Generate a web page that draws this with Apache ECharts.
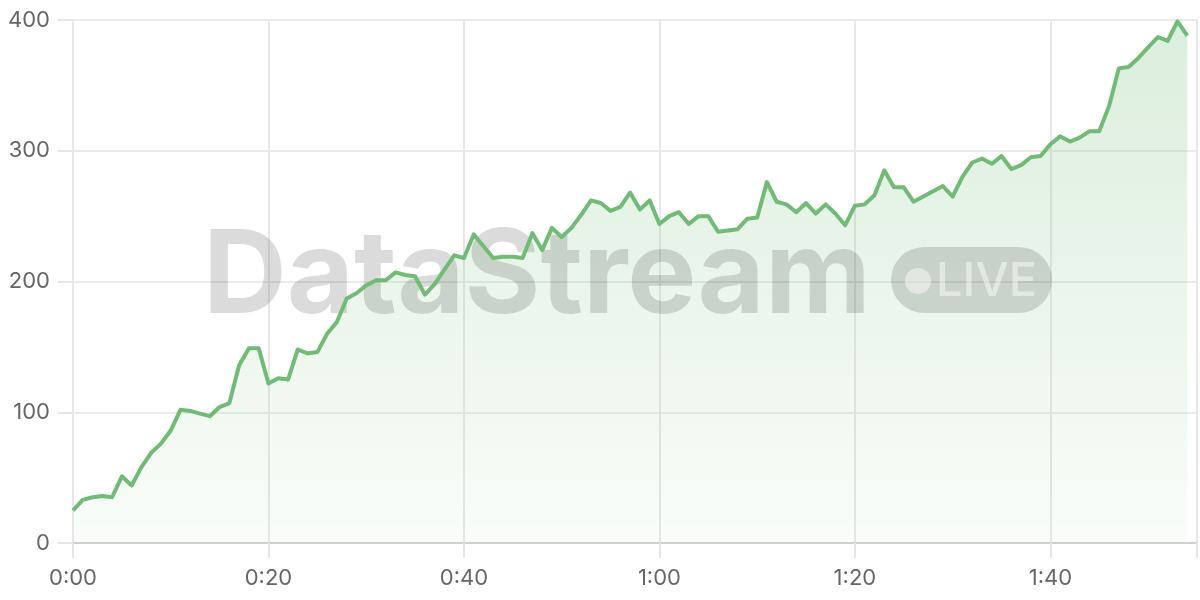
<!DOCTYPE html>
<html>
<head>
<meta charset="utf-8">
<script src="https://cdn.jsdelivr.net/npm/echarts@6/dist/echarts.min.js"></script>
<style>
html,body{margin:0;padding:0;background:#fff;}
#chart{width:1200px;height:600px;}
</style>
</head>
<body>
<div id="chart"></div>
<script>
// seconds elapsed (one sample per second)
const seconds = [];
for (let i = 0; i <= 114; i++) seconds.push(i);

// series values
const values = [
  25, 33, 35, 36, 35, 51, 44, 58, 69, 76,
  86, 102, 101, 99, 97, 104, 107, 136, 149, 149,
  122, 126, 125, 148, 145, 146, 160, 169, 187, 191,
  197, 201, 201, 207, 205, 204, 190, 198, 209, 220,
  218, 236, 227, 218, 219, 219, 218, 237, 224, 241,
  234, 241, 251, 262, 260, 254, 257, 268, 255, 262,
  244, 250, 253, 244, 250, 250, 238, 239, 240, 248,
  249, 276, 261, 259, 253, 260, 252, 259, 252, 243,
  258, 259, 266, 285, 272, 272, 261, 265, 269, 273,
  265, 280, 291, 294, 290, 296, 286, 289, 295, 296,
  305, 311, 307, 310, 315, 315, 334, 363, 364, 371,
  379, 387, 384, 399, 388
];

const xTickStep = 20;
const yTicks = [0, 100, 200, 300, 400];

const watermarkText = 'DataStream';
const badgeText = 'LIVE';

const chart = echarts.init(document.getElementById('chart'));

function fmtTime(v) {
  if (v % xTickStep !== 0) return '';
  const m = Math.floor(v / 60);
  const s = v % 60;
  return m + ':' + (s < 10 ? '0' + s : s);
}

const data = seconds.map((s, i) => [s, values[i]]);

const option = {
  animation: false,
  grid: { left: 73, right: 0, top: 20, bottom: 57, containLabel: false },
  xAxis: {
    type: 'value',
    min: 0,
    max: 115,
    interval: xTickStep,
    axisLine: { show: true, lineStyle: { color: '#d0d0d0', width: 2 } },
    axisTick: { show: true, length: 15, lineStyle: { color: '#e6e6e6', width: 2 } },
    axisLabel: {
      formatter: fmtTime,
      color: '#666666',
      fontSize: 22,
      fontFamily: 'Inter',
      margin: 24
    },
    splitLine: { show: true, lineStyle: { color: '#e8e8e8', width: 2 } }
  },
  yAxis: {
    type: 'value',
    min: yTicks[0],
    max: yTicks[yTicks.length - 1],
    interval: 100,
    axisLine: { show: false },
    axisTick: { show: true, length: 15, lineStyle: { color: '#e6e6e6', width: 2 } },
    axisLabel: {
      color: '#666666',
      fontSize: 22,
      fontFamily: 'Inter',
      margin: 23
    },
    splitLine: { show: true, lineStyle: { color: '#ebebeb', width: 2 } }
  },
  series: [
    {
      type: 'line',
      data: data,
      showSymbol: false,
      symbol: 'none',
      lineStyle: { width: 0, opacity: 0 },
      areaStyle: {
        color: new echarts.graphic.LinearGradient(0, 0, 0, 1, [
          { offset: 0, color: 'rgba(114,187,118,0.36)' },
          { offset: 1, color: 'rgba(114,187,118,0.06)' }
        ])
      },
      z: 1
    },
    {
      type: 'line',
      data: data,
      showSymbol: false,
      symbol: 'none',
      lineStyle: { color: '#72bb76', width: 4, join: 'round' },
      itemStyle: { color: '#72bb76' },
      z: 5
    }
  ],
  graphic: [
    {
      type: 'text', z: 3, silent: true,
      x: 203, y: 278,
      style: {
        text: watermarkText,
        font: '700 116px Inter',
        fill: 'rgba(0,0,0,0.14)',
        align: 'left',
        verticalAlign: 'middle'
      }
    },
    {
      type: 'rect', z: 3, silent: true,
      shape: { x: 891, y: 247, width: 161, height: 66, r: 33 },
      style: { fill: 'rgba(0,0,0,0.14)' }
    },
    {
      type: 'circle', z: 4, silent: true,
      shape: { cx: 918, cy: 281, r: 13 },
      style: { fill: 'rgba(255,255,255,0.47)' }
    },
    {
      type: 'text', z: 4, silent: true,
      x: 936, y: 282,
      style: {
        text: badgeText,
        font: '500 47px Inter',
        fill: 'rgba(255,255,255,0.47)',
        align: 'left',
        verticalAlign: 'middle'
      }
    }
  ]
};

chart.setOption(option);
</script>
</body>
</html>
